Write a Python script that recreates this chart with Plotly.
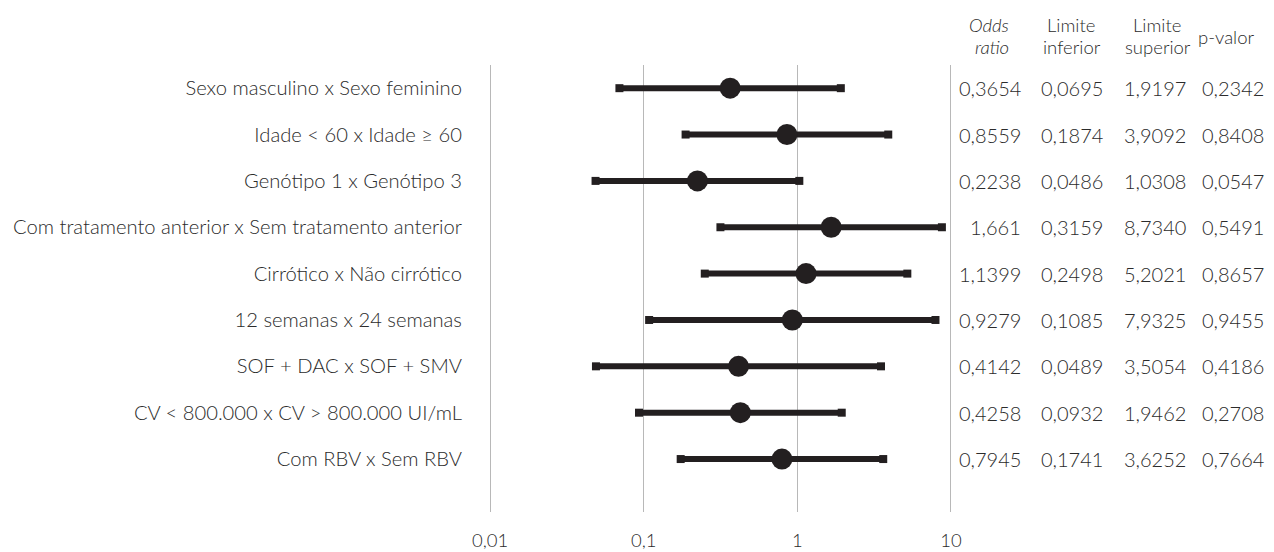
import plotly.graph_objects as go

labels = [
    "Sexo masculino x Sexo feminino",
    "Idade < 60 x Idade ≥ 60",
    "Genótipo 1 x Genótipo 3",
    "Com tratamento anterior x Sem tratamento anterior",
    "Cirrótico x Não cirrótico",
    "12 semanas x 24 semanas",
    "SOF + DAC x SOF + SMV",
    "CV < 800.000 x CV > 800.000 UI/mL",
    "Com RBV x Sem RBV",
]
odds = [0.3654, 0.8559, 0.2238, 1.661, 1.1399, 0.9279, 0.4142, 0.4258, 0.7945]
lower = [0.0695, 0.1874, 0.0486, 0.3159, 0.2498, 0.1085, 0.0489, 0.0932, 0.1741]
upper = [1.9197, 3.9092, 1.0308, 8.7340, 5.2021, 7.9325, 3.5054, 1.9462, 3.6252]
pvalues = [0.2342, 0.8408, 0.0547, 0.5491, 0.8657, 0.9455, 0.4186, 0.2708, 0.7664]
odds_text = ["0,3654", "0,8559", "0,2238", "1,661", "1,1399", "0,9279", "0,4142", "0,4258", "0,7945"]
lower_text = ["0,0695", "0,1874", "0,0486", "0,3159", "0,2498", "0,1085", "0,0489", "0,0932", "0,1741"]
upper_text = ["1,9197", "3,9092", "1,0308", "8,7340", "5,2021", "7,9325", "3,5054", "1,9462", "3,6252"]
p_text = ["0,2342", "0,8408", "0,0547", "0,5491", "0,8657", "0,9455", "0,4186", "0,2708", "0,7664"]
tick_vals = [0.01, 0.1, 1, 10]
tick_text = ["0,01", "0,1", "1", "10"]

DARK = "#231f20"
TXT = "#2b2b2b"
FONT = "Lato"
FW = 300
W, H = 1274, 552
L, R, T, B = 487, 320, 65, 40
PW = W - L - R
PH = H - T - B

def xp(px):
    return (px - L) / PW

def yp(py):
    return (H - B - py) / PH

ypos = list(range(len(labels)))

line_x, line_y = [], []
for i in ypos:
    line_x += [lower[i], upper[i], None]
    line_y += [i, i, None]

fig = go.Figure()
fig.add_trace(go.Scatter(x=line_x, y=line_y, mode="lines",
                         line=dict(color=DARK, width=6), hoverinfo="skip", showlegend=False))
fig.add_trace(go.Scatter(x=lower + upper, y=ypos + ypos, mode="markers",
                         marker=dict(symbol="square", size=8, color=DARK), showlegend=False))
fig.add_trace(go.Scatter(x=odds, y=ypos, mode="markers",
                         marker=dict(symbol="circle", size=21, color=DARK), showlegend=False))

fig.update_xaxes(type="log", range=[-2.02, 1.02], tickvals=tick_vals, ticktext=tick_text,
                 showgrid=True, gridcolor="#b8b8b8", gridwidth=1, zeroline=False,
                 ticks="outside", ticklen=12, tickcolor="rgba(0,0,0,0)",
                 tickfont=dict(family=FONT, size=18.5, color=TXT, weight=FW), automargin=False,
                 showline=False)
fig.update_yaxes(range=[len(labels) - 1 + 53 / 46.4, -0.5], tickvals=ypos, ticktext=labels,
                 showgrid=False, zeroline=False, ticks="outside", ticklen=20,
                 tickcolor="rgba(0,0,0,0)", tickfont=dict(family=FONT, size=20.2, color=TXT, weight=FW),
                 automargin=False)

cols = [(odds_text, 1023), (lower_text, 1105), (upper_text, 1188), (p_text, 1266)]
for texts, right in cols:
    for i, t in enumerate(texts):
        fig.add_annotation(x=xp(right), y=i, xref="paper", yref="y", text=t, showarrow=False,
                           xanchor="right", yanchor="middle",
                           font=dict(family=FONT, size=20, color=TXT, weight=FW))

headers = [
    ("<i>Odds</i>", 989, 25), ("<i>ratio</i>", 992, 47),
    ("Limite", 1071, 25), ("inferior", 1072, 47),
    ("Limite", 1157, 25), ("superior", 1158, 47),
    ("p-valor", 1226, 37),
]
for t, cx, cy in headers:
    fig.add_annotation(x=xp(cx), y=yp(cy), xref="paper", yref="paper", text=t, showarrow=False,
                       xanchor="center", yanchor="middle",
                       font=dict(family=FONT, size=18.5, color=TXT, weight=FW))

fig.update_layout(width=W, height=H, margin=dict(l=L, r=R, t=T, b=B),
                  plot_bgcolor="white", paper_bgcolor="white", showlegend=False)
fig.write_html("out.html", config={"displayModeBar": False},
               post_script="document.body.style.margin='0px';")
